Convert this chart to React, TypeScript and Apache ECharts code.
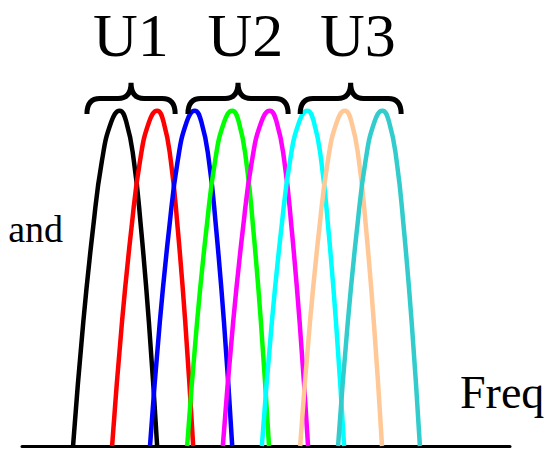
import React, { useEffect, useRef } from "react";
import * as echarts from "echarts";

// Eight overlapping sub-band responses (x in sub-carrier units, y = normalised amplitude)
const SERIES_NAMES = ["B1", "B2", "B3", "B4", "B5", "B6", "B7", "B8"];
const COLORS = ["#000000", "#ff0000", "#0000ff", "#00ff00", "#ff00ff", "#00ffff", "#ffc896", "#33cccc"];
const LEFT_FEET = [-1.24, -0.2, 0.81, 1.8, 2.75, 3.79, 4.81, 5.82];
const PEAKS = [0, 1, 2, 3, 4, 5, 6, 7];
const RIGHT_FEET = [1.0, 1.96, 3.0, 3.98, 5.02, 5.98, 6.99, 8.0];
// hump profile: distance from peak (fraction of the half-width) vs. level
const SHAPE_FRACTION = [1, 0.78, 0.57, 0.38, 0.18, 0];
const SHAPE_LEVEL = [0, 0.37, 0.65, 0.85, 0.966, 1];

// user groups
const GROUP_LABELS = ["U1", "U2", "U3"];
const GROUP_LABEL_X = [0.3, 3.35, 6.35];
const BRACE_START = [-0.87, 1.82, 4.81];
const BRACE_END = [1.48, 4.49, 7.5];

const AXIS_LABEL_LEFT = "and";
const AXIS_LABEL_BOTTOM = "Freq";

const FONT = '"Liberation Serif", "Times New Roman", serif';

function humpData(i: number): number[][] {
  const pts: number[][] = [];
  const l = LEFT_FEET[i];
  const p = PEAKS[i];
  const r = RIGHT_FEET[i];
  for (let k = 0; k < SHAPE_FRACTION.length; k++) {
    pts.push([p - SHAPE_FRACTION[k] * (p - l), SHAPE_LEVEL[k]]);
  }
  for (let k = SHAPE_FRACTION.length - 2; k >= 0; k--) {
    pts.push([p + SHAPE_FRACTION[k] * (r - p), SHAPE_LEVEL[k]]);
  }
  return pts;
}

export default function App() {
  const ref = useRef<HTMLDivElement>(null);

  useEffect(() => {
    if (!ref.current) return;
    const chart = echarts.init(ref.current, null, { renderer: "svg" });

    const lineSeries = SERIES_NAMES.map((name, i) => ({
      name,
      type: "line",
      data: humpData(i),
      smooth: 0.5,
      symbol: "none",
      lineStyle: { color: COLORS[i], width: 4.5 },
      itemStyle: { color: COLORS[i] },
      z: 2 + i,
    }));

    const braceSeries = {
      type: "custom",
      coordinateSystem: "cartesian2d",
      clip: false,
      z: 20,
      data: BRACE_START.map((s, i) => [s, BRACE_END[i], GROUP_LABEL_X[i]]),
      encode: { x: [0, 1, 2] },
      renderItem: (params: any, api: any) => {
        const s = api.value(0);
        const e = api.value(1);
        const lx = api.value(2);
        const x0 = api.coord([s, 0])[0];
        const x1 = api.coord([e, 0])[0];
        const xm = (x0 + x1) / 2;
        const yTip = api.coord([0, 1.083])[1];
        const yBar = api.coord([0, 1.036])[1];
        const yEnd = api.coord([0, 0.99])[1];
        const r = 13;
        const d =
          `M${x0},${yEnd} Q${x0},${yBar} ${x0 + r},${yBar} L${xm - r},${yBar} ` +
          `Q${xm},${yBar} ${xm},${yTip} Q${xm},${yBar} ${xm + r},${yBar} ` +
          `L${x1 - r},${yBar} Q${x1},${yBar} ${x1},${yEnd}`;
        const lp = api.coord([lx, 1.226]);
        return {
          type: "group",
          children: [
            {
              type: "path",
              shape: { pathData: d },
              style: { stroke: "#000", lineWidth: 5, fill: "none" },
            },
            {
              type: "text",
              x: lp[0],
              y: lp[1],
              style: {
                text: GROUP_LABELS[params.dataIndex],
                fontSize: 62,
                fontFamily: FONT,
                fill: "#000",
                align: "center",
                verticalAlign: "middle",
              },
            },
          ],
        };
      },
    };

    chart.setOption({
      animation: false,
      backgroundColor: "#ffffff",
      grid: { left: 22, right: 35, top: 0, bottom: 3, containLabel: false },
      xAxis: {
        type: "value",
        min: -2.6,
        max: 10.4,
        axisLine: { show: true, onZero: false, lineStyle: { color: "#000", width: 3 } },
        axisTick: { show: false },
        axisLabel: { show: false },
        splitLine: { show: false },
      },
      yAxis: {
        type: "value",
        min: 0,
        max: 1.33,
        show: false,
      },
      graphic: [
        {
          type: "text",
          x: 63,
          y: 229,
          style: {
            text: AXIS_LABEL_LEFT,
            fontSize: 38,
            fontFamily: FONT,
            fill: "#000",
            align: "right",
            verticalAlign: "middle",
          },
        },
        {
          type: "text",
          x: 460,
          y: 392,
          style: {
            text: AXIS_LABEL_BOTTOM,
            fontSize: 46,
            fontFamily: FONT,
            fill: "#000",
            align: "left",
            verticalAlign: "middle",
          },
        },
      ],
      series: [...lineSeries, braceSeries],
    });

    return () => chart.dispose();
  }, []);

  return (
    <div
      ref={ref}
      style={{ position: "fixed", left: 0, top: 0, width: 545, height: 449, background: "#fff" }}
    />
  );
}
